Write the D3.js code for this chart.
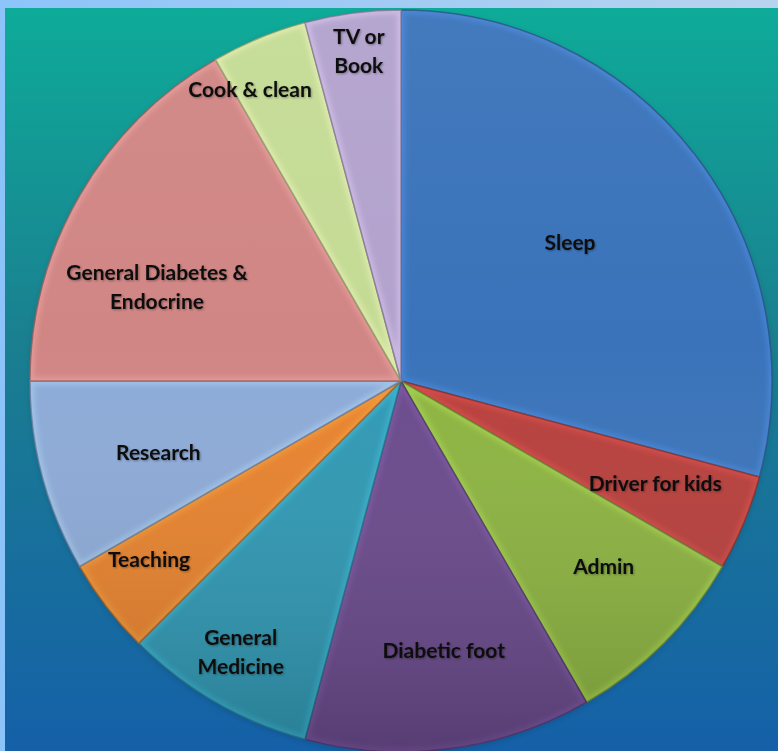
<!doctype html>
<html lang="en">
<head>
  <meta charset="utf-8">
  <title>My day</title>
  <script src="https://cdn.jsdelivr.net/npm/d3@7"></script>
  <style>
    html, body { margin: 0; padding: 0; background: #8cc4fa; }
    svg { display: block; }
    .lbl {
      font-family: Lato, "Open Sans", sans-serif;
      font-weight: bold;
      font-size: 21px;
      fill: #111;
    }
  </style>
</head>
<body>
<div id="chart"></div>
<script>
  // hours of a typical day
  var activities = ["Sleep", "Driver for kids", "Admin", "Diabetic foot", "General Medicine",
                    "Teaching", "Research", "General Diabetes & Endocrine", "Cook & clean", "TV or Book"];
  var hours = [7, 1, 2, 3, 2, 1, 2, 4, 1, 1];
  var labelLines = [["Sleep"], ["Driver for kids"], ["Admin"], ["Diabetic foot"], ["General", "Medicine"],
                    ["Teaching"], ["Research"], ["General Diabetes &", "Endocrine"], ["Cook & clean"], ["TV or", "Book"]];
  var colours = ["#3a73ba", "#b83f3c", "#8db441", "#6a4a8c", "#3099b4",
                 "#e8832e", "#8dabd8", "#d08684", "#c4db95", "#b2a2cd"];

  var width = 778, height = 751,
      cx = 401, cy = 381, radius = 371;

  // label placement tweaks: fraction of radius, angle offset (deg) from slice middle
  var labelTweak = [[0.588, -1.7], [0.739, -0.5], [0.741, -2.5], [0.736, -1.5], [0.849, 0.6],
                    [0.833, 2.1], [0.682, -1.5], [0.704, -9.1], [0.884, -4.9], [0.895, 0.2]];

  var svg = d3.select("#chart").append("svg")
      .attr("width", width)
      .attr("height", height);

  var defs = svg.append("defs");

  var bg = defs.append("linearGradient").attr("id", "bg").attr("x1", 0).attr("y1", 0).attr("x2", 0).attr("y2", 1);
  bg.append("stop").attr("offset", "0%").attr("stop-color", "#0eab99");
  bg.append("stop").attr("offset", "45%").attr("stop-color", "#1a7f90");
  bg.append("stop").attr("offset", "100%").attr("stop-color", "#1560a8");

  var topbar = defs.append("linearGradient").attr("id", "topbar");
  topbar.append("stop").attr("offset", "0%").attr("stop-color", "#8cc4fa");
  topbar.append("stop").attr("offset", "100%").attr("stop-color", "#b8d3ee");

  var shade = defs.append("linearGradient").attr("id", "shade").attr("x1", 0).attr("y1", 0).attr("x2", 0).attr("y2", 1);
  shade.append("stop").attr("offset", "0%").attr("stop-color", "#fff").attr("stop-opacity", 0.05);
  shade.append("stop").attr("offset", "45%").attr("stop-color", "#fff").attr("stop-opacity", 0);
  shade.append("stop").attr("offset", "100%").attr("stop-color", "#000").attr("stop-opacity", 0.18);

  var blur = defs.append("filter").attr("id", "soft").attr("x", "-10%").attr("y", "-10%").attr("width", "120%").attr("height", "120%");
  blur.append("feGaussianBlur").attr("stdDeviation", 2.5);

  var shadow = defs.append("filter").attr("id", "shadow").attr("x", "-10%").attr("y", "-10%").attr("width", "120%").attr("height", "120%");
  shadow.append("feGaussianBlur").attr("in", "SourceAlpha").attr("stdDeviation", 3);
  shadow.append("feOffset").attr("dx", 0).attr("dy", 2).attr("result", "b");
  shadow.append("feComponentTransfer").append("feFuncA").attr("type", "linear").attr("slope", 0.45);
  var merge = shadow.append("feMerge");
  merge.append("feMergeNode");
  merge.append("feMergeNode").attr("in", "SourceGraphic");

  var txtGlow = defs.append("filter").attr("id", "txtglow").attr("x", "-10%").attr("y", "-30%").attr("width", "120%").attr("height", "160%");
  txtGlow.append("feGaussianBlur").attr("in", "SourceAlpha").attr("stdDeviation", 0.8).attr("result", "g");
  txtGlow.append("feOffset").attr("dx", 0.5).attr("dy", 0.8);
  txtGlow.append("feComponentTransfer").append("feFuncA").attr("type", "linear").attr("slope", 0.35);
  var tm = txtGlow.append("feMerge");
  tm.append("feMergeNode");
  tm.append("feMergeNode").attr("in", "SourceGraphic");

  // frame
  svg.append("rect").attr("width", width).attr("height", height).attr("fill", "#8cc4fa");
  svg.append("rect").attr("x", 0).attr("y", 0).attr("width", width).attr("height", 8).attr("fill", "url(#topbar)");
  svg.append("rect").attr("x", 5).attr("y", 8).attr("width", width - 5).attr("height", height - 8).attr("fill", "url(#bg)");

  var pie = d3.pie().sort(null).value(function(d) { return d; });
  var arcs = pie(hours);

  var arc = d3.arc().innerRadius(0).outerRadius(radius);

  var g = svg.append("g").attr("transform", "translate(" + cx + "," + cy + ")");

  g.append("circle").attr("r", radius).attr("fill", "#000").attr("opacity", 0.3).attr("filter", "url(#shadow)");

  var slice = g.selectAll("g.slice")
      .data(arcs)
    .enter().append("g")
      .attr("class", "slice");

  slice.append("clipPath")
      .attr("id", function(d, i) { return "clip" + i; })
    .append("path")
      .attr("d", arc);

  slice.append("path")
      .attr("d", arc)
      .attr("fill", function(d, i) { return colours[i]; });

  // bevel: light rim inside each slice and a dark inner edge
  slice.append("path")
      .attr("d", arc)
      .attr("fill", "none")
      .attr("stroke", function(d, i) { return d3.color(colours[i]).brighter(0.8); })
      .attr("stroke-width", 8)
      .attr("stroke-opacity", 0.4)
      .attr("filter", "url(#soft)")
      .attr("clip-path", function(d, i) { return "url(#clip" + i + ")"; });

  slice.append("path")
      .attr("d", arc)
      .attr("fill", "none")
      .attr("stroke", function(d, i) { return d3.color(colours[i]).darker(0.9); })
      .attr("stroke-width", 1.5)
      .attr("stroke-opacity", 0.8);

  g.append("circle")
      .attr("r", radius)
      .attr("fill", "url(#shade)")
      .attr("pointer-events", "none");

  // labels
  var labels = g.selectAll("text.lbl")
      .data(arcs)
    .enter().append("text")
      .attr("class", "lbl")
      .attr("text-anchor", "middle")
      .attr("filter", "url(#txtglow)")
      .attr("transform", function(d, i) {
        var t = labelTweak[i],
            a = (d.startAngle + d.endAngle) / 2 + t[1] * Math.PI / 180,
            r = t[0] * radius;
        return "translate(" + (r * Math.sin(a)) + "," + (-r * Math.cos(a)) + ")";
      });

  labels.each(function(d, i) {
    var lines = labelLines[i],
        lh = 29,
        y0 = -(lines.length - 1) * lh / 2 + 7;
    d3.select(this).selectAll("tspan")
        .data(lines)
      .enter().append("tspan")
        .attr("x", 0)
        .attr("y", function(s, j) { return y0 + j * lh; })
        .text(function(s) { return s; });
  });
</script>
</body>
</html>
